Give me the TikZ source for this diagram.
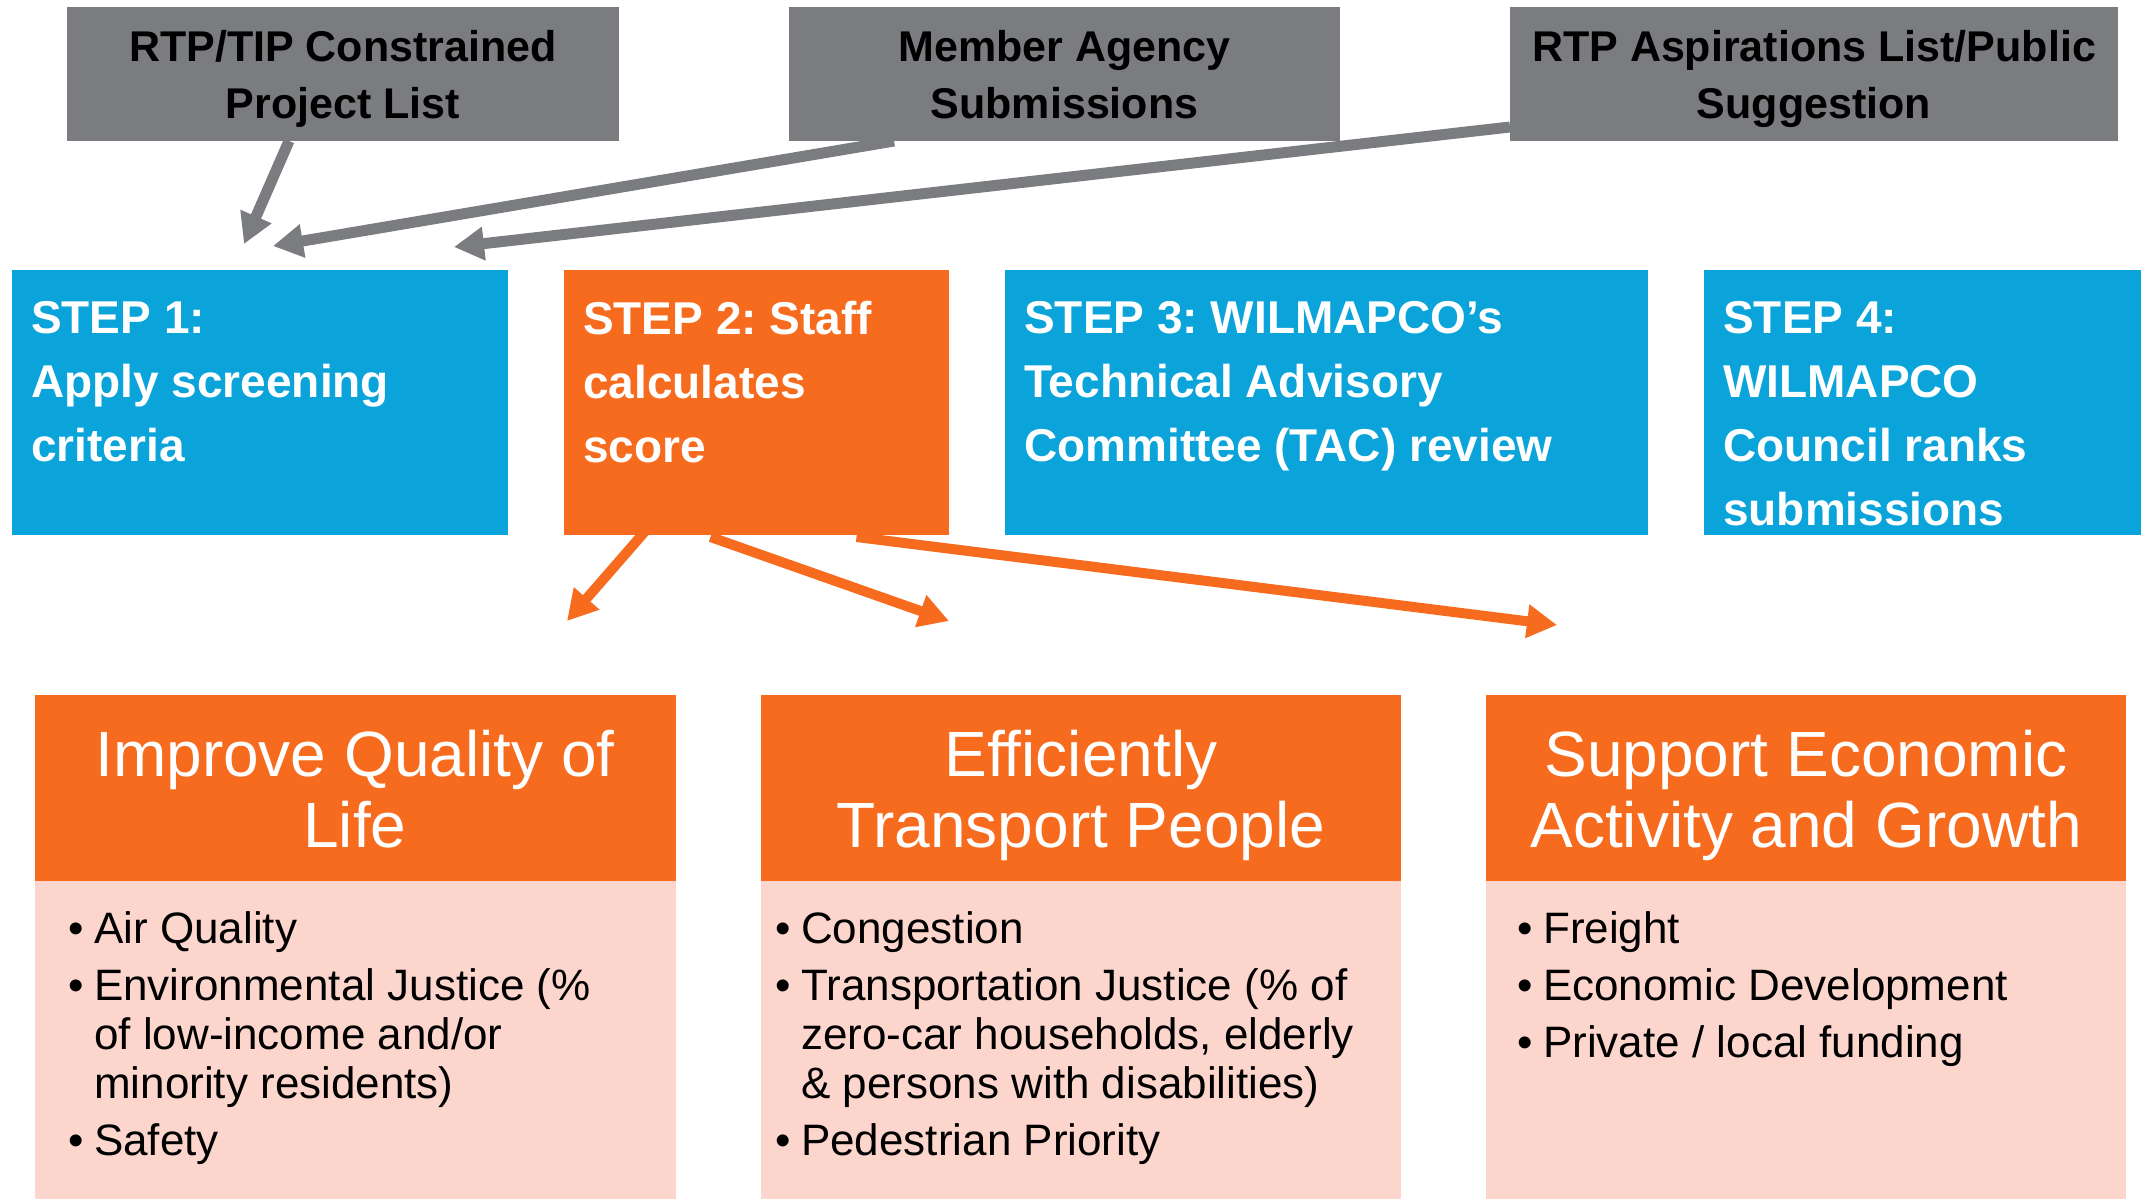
\documentclass[tikz,border=0pt]{standalone}
\usepackage{fontspec}
\setmainfont{Liberation Sans}
\usetikzlibrary{arrows.meta}
\definecolor{cgray}{RGB}{123,124,128}
\definecolor{cblue}{RGB}{10,163,218}
\definecolor{corange}{RGB}{247,107,30}
\definecolor{cpink}{RGB}{252,214,205}
\newcommand{\bul}{\makebox[26pt][l]{•}}
\newcommand{\cnt}{\hspace*{26pt}}
\frenchspacing
\begin{document}
\begin{tikzpicture}[x=1pt,y=-1pt,
  boxbase/.style={rectangle, inner sep=0pt, outer sep=0pt, anchor=north west},
  graybox/.style={boxbase, fill=cgray},
  bluebox/.style={boxbase, fill=cblue},
  orangebox/.style={boxbase, fill=corange},
  pinkbox/.style={boxbase, fill=cpink},
  graytext/.style={inner sep=0pt, anchor=north, align=center, text=black, font={\fontsize{43pt}{57pt}\selectfont\bfseries\frenchspacing}},
  steptext/.style={inner sep=0pt, anchor=north west, align=left, text=white, font={\fontsize{46pt}{64pt}\selectfont\bfseries\frenchspacing}},
  headtext/.style={inner sep=0pt, anchor=north, align=center, text=white, font={\fontsize{64pt}{71pt}\selectfont\frenchspacing}},
  bultext/.style={inner sep=0pt, anchor=north west, align=left, text=black, font={\fontsize{44pt}{49pt}\selectfont\frenchspacing}},
  garrow/.style={draw=cgray, line width=11pt, -{Triangle[length=30pt,width=32pt]}},
  oarrow/.style={draw=corange, line width=10pt, -{Triangle[length=30pt,width=32pt]}}
]
\useasboundingbox (0,0) rectangle (2141,1199);

% source boxes
\node[graybox, minimum width=552pt, minimum height=134pt] (g1) at (67,7) {};
\node[graybox, minimum width=551pt, minimum height=134pt] (g2) at (789,7) {};
\node[graybox, minimum width=608pt, minimum height=134pt] (g3) at (1510,7) {};
\node[graytext] (g1t) at (343,30) {RTP/TIP Constrained\\Project List};
\node[graytext] (g2t) at (1064.5,30) {Member Agency\\Submissions};
\node[graytext] (g3t) at (1814,30) {RTP Aspirations List/Public\\Suggestion};

% step boxes
\node[bluebox, minimum width=496pt, minimum height=265pt] (s1) at (12,270) {};
\node[orangebox, minimum width=385pt, minimum height=265pt] (s2) at (564,270) {};
\node[bluebox, minimum width=643pt, minimum height=265pt] (s3) at (1005,270) {};
\node[bluebox, minimum width=437pt, minimum height=265pt] (s4) at (1704,270) {};
\node[steptext] (s1t) at (31,301) {STEP 1:\\Apply screening\\criteria};
\node[steptext] (s2t) at (583,301) {STEP 2: Staff\\calculates\\score};
\node[steptext] (s3t) at (1024,301) {STEP 3: WILMAPCO’s\\Technical Advisory\\Committee (TAC) review};
\node[steptext] (s4t) at (1723,301) {STEP 4:\\WILMAPCO\\Council ranks\\submissions};

% goal boxes
\node[orangebox, minimum width=641pt, minimum height=186pt] (h1) at (35,695) {};
\node[orangebox, minimum width=640pt, minimum height=186pt] (h2) at (761,695) {};
\node[orangebox, minimum width=640pt, minimum height=186pt] (h3) at (1486,695) {};
\node[pinkbox, minimum width=641pt, minimum height=318pt] (b1) at (35,881) {};
\node[pinkbox, minimum width=640pt, minimum height=318pt] (b2) at (761,881) {};
\node[pinkbox, minimum width=640pt, minimum height=318pt] (b3) at (1486,881) {};
\node[headtext] (h1t) at (355,730) {Improve Quality of\\Life};
\node[headtext] (h2t) at (1081,730) {Efficiently\\Transport People};
\node[headtext] (h3t) at (1806,730) {Support Economic\\Activity and Growth};
\node[bultext] (b1t) at (68,911) {\bul Air Quality\\[8pt]\bul Environmental Justice (\%\\\cnt of low-income and/or\\\cnt minority residents)\\[8pt]\bul Safety};
\node[bultext] (b2t) at (775,911) {\bul Congestion\\[8pt]\bul Transportation Justice (\% of\\\cnt zero-car households, elderly\\\cnt \& persons with disabilities)\\[8pt]\bul Pedestrian Priority};
\node[bultext] (b3t) at (1517,911) {\bul Freight\\[8pt]\bul Economic Development\\[8pt]\bul Private / local funding};

% arrow end points
\coordinate (ga1) at (244,244);
\coordinate (ga2) at (273,246);
\coordinate (ga3) at (454,247);
\coordinate (oa1) at (567,621);
\coordinate (oa2) at (949,621);
\coordinate (oa3) at (1557,625);

\draw[garrow] ([xshift=-54pt]g1.south) -- (ga1);
\draw[garrow] ([xshift=105pt]g2.south west) -- (ga2);
\draw[garrow] ([yshift=-53pt]g3.west) -- (ga3);
\draw[oarrow] ([xshift=-85pt,yshift=34pt]s2.south) -- (oa1);
\draw[oarrow] ([xshift=-46pt,yshift=-2pt]s2.south) -- (oa2);
\draw[oarrow] ([xshift=100pt,yshift=-2pt]s2.south) -- (oa3);
\end{tikzpicture}
\end{document}
